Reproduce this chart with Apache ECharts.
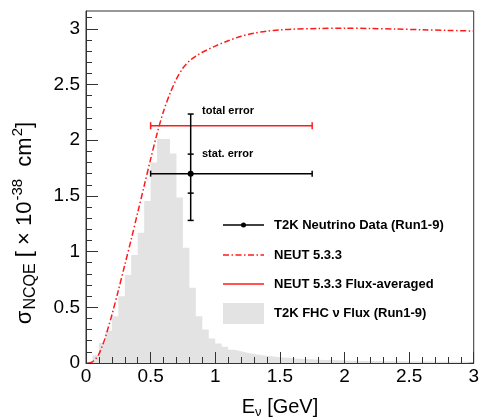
<!DOCTYPE html>
<html>
<head>
<meta charset="utf-8">
<script src="https://cdn.jsdelivr.net/npm/echarts@6/dist/echarts.min.js"></script>
<style>
html,body{margin:0;padding:0;background:#fff;}
#c{width:482px;height:418px;}
</style>
</head>
<body>
<div id="c"></div>
<script>
// Flux histogram: bin edges (GeV) and contents (arbitrary units on the same y scale)
const fluxEdges = [0,0.05,0.1,0.15,0.2,0.25,0.3,0.35,0.4,0.45,0.5,0.55,0.6,0.65,0.7,0.75,0.8,0.85,0.9,0.95,
  1.0,1.05,1.1,1.15,1.2,1.25,1.3,1.35,1.4,1.45,1.5,1.55,1.6,1.65,1.7,1.75,1.8,1.85,1.9,1.95,
  2.0,2.05,2.1,2.15,2.2,2.25,2.3,2.35,2.4,2.45,2.5,2.55,2.6,2.65,2.7,2.75,2.8,2.85,2.9,2.95,3.0];
const fluxValues = [0,0.07,0.18,0.29,0.42,0.60,0.79,0.97,1.17,1.455,1.80,2.01,2.01,1.88,1.485,1.035,0.675,0.42,0.30,0.22,
  0.175,0.145,0.12,0.105,0.092,0.08,0.072,0.065,0.058,0.052,0.047,0.043,0.039,0.036,0.033,0.030,0.028,0.026,0.024,0.022,
  0.021,0.020,0.019,0.018,0.017,0.016,0.016,0.015,0.015,0.014,0.014,0.013,0.013,0.012,0.012,0.012,0.011,0.011,0.011,0.010];

// NEUT 5.3.3 cross-section curve
const neutE  = [0.02,0.04,0.06,0.08,0.1,0.125,0.15,0.175,0.2,0.25,0.3,0.35,0.4,0.45,0.5,0.55,0.6,0.65,0.7,0.75,0.8,0.85,0.9,1.0,1.1,1.2,1.3,1.4,1.5,1.6,1.8,2.0,2.2,2.4,2.6,2.8,3.0];
const neutXs = [0,0.005,0.02,0.045,0.08,0.15,0.23,0.33,0.43,0.65,0.88,1.11,1.35,1.59,1.83,2.06,2.26,2.42,2.55,2.648,2.712,2.755,2.79,2.845,2.893,2.933,2.961,2.979,2.99,2.997,3.003,3.005,3.003,2.998,2.992,2.986,2.98];

// T2K data point
const dataE = [0.81];
const dataXs = [1.70];
const dataELow = [0.5];
const dataEHigh = [1.75];
const totErrLow = [1.28];
const totErrHigh = [2.235];
const statErrLow = [1.525];
const statErrHigh = [1.875];

// NEUT flux-averaged
const fluxAvgXs = [2.13];
const fluxAvgELow = [0.5];
const fluxAvgEHigh = [1.75];

// Axis ticks
const yMajor = [0,0.5,1,1.5,2,2.5,3];
const yMinor = [0.1,0.2,0.3,0.4,0.6,0.7,0.8,0.9,1.1,1.2,1.3,1.4,1.6,1.7,1.8,1.9,2.1,2.2,2.3,2.4,2.6,2.7,2.8,2.9,3.1];

const legendLabels = ['T2K Neutrino Data (Run1-9)','NEUT 5.3.3','NEUT 5.3.3 Flux-averaged','T2K FHC \u03bd Flux (Run1-9)'];

const FONT = 'Liberation Sans, Arial, Helvetica, sans-serif';
const RED = '#ff1a1a';

const histData = fluxValues.map((v,i)=>[fluxEdges[i], v]);
histData.push([fluxEdges[fluxEdges.length-1], fluxValues[fluxValues.length-1]]);

const chart = echarts.init(document.getElementById('c'), null, {renderer:'canvas'});

const errData = dataE.map((e,i)=>[e, dataXs[i], dataELow[i], dataEHigh[i], totErrLow[i], totErrHigh[i], statErrLow[i], statErrHigh[i]]);
const avgData = fluxAvgXs.map((v,i)=>[fluxAvgELow[i], fluxAvgEHigh[i], v]);

const option = {
  animation:false,
  textStyle:{fontFamily:FONT},
  grid:{left:86,right:5,top:11,bottom:55,show:true,borderColor:'#333',borderWidth:1,backgroundColor:'transparent'},
  xAxis:{
    type:'value',min:0,max:3,interval:0.5,z:5,
    axisLine:{show:true,lineStyle:{color:'#333',width:1}},
    axisTick:{inside:true,length:11,lineStyle:{color:'#333'}},
    minorTick:{show:true,splitNumber:5,length:6,lineStyle:{color:'#333'}},
    splitLine:{show:false},
    axisLabel:{fontSize:19,color:'#000',margin:4,fontFamily:FONT}
  },
  yAxis:[{
    type:'value',min:0,max:3.16,z:5,
    axisLine:{show:true,lineStyle:{color:'#333',width:1}},
    axisTick:{inside:true,length:12,customValues:yMajor,lineStyle:{color:'#333'}},
    splitLine:{show:false},
    axisLabel:{fontSize:19,color:'#000',margin:6,customValues:yMajor,fontFamily:FONT}
  },{
    type:'value',min:0,max:3.16,position:'left',z:5,
    axisLine:{show:false},
    axisTick:{inside:true,length:6,customValues:yMinor,lineStyle:{color:'#333'}},
    axisLabel:{show:false,customValues:yMinor},
    splitLine:{show:false}
  }],
  series:[
    {
      name:'flux',type:'line',step:'end',data:histData,showSymbol:false,symbol:'none',z:1,
      lineStyle:{width:0,color:'#e3e3e3'},
      areaStyle:{color:'#e3e3e3',opacity:1}
    },
    {
      name:'neut',type:'line',data:neutE.map((e,i)=>[e,neutXs[i]]),smooth:0.3,
      showSymbol:false,symbol:'none',z:3,
      lineStyle:{color:RED,width:1.5,type:[6,2.5,1.5,2.5]}
    },
    {
      name:'fluxavg',type:'custom',z:4,data:avgData,
      renderItem:function(params,api){
        const lo=api.coord([api.value(0),api.value(2)]);
        const hi=api.coord([api.value(1),api.value(2)]);
        const st={stroke:RED,lineWidth:1.5};
        return {type:'group',children:[
          {type:'line',shape:{x1:lo[0],y1:lo[1],x2:hi[0],y2:hi[1]},style:st},
          {type:'line',shape:{x1:lo[0],y1:lo[1]-3.5,x2:lo[0],y2:lo[1]+3.5},style:st},
          {type:'line',shape:{x1:hi[0],y1:hi[1]-3.5,x2:hi[0],y2:hi[1]+3.5},style:st}
        ]};
      }
    },
    {
      name:'data',type:'custom',z:6,data:errData,
      renderItem:function(params,api){
        const c=api.coord([api.value(0),api.value(1)]);
        const xl=api.coord([api.value(2),api.value(1)]);
        const xh=api.coord([api.value(3),api.value(1)]);
        const tl=api.coord([api.value(0),api.value(4)]);
        const th=api.coord([api.value(0),api.value(5)]);
        const sl=api.coord([api.value(0),api.value(6)]);
        const sh=api.coord([api.value(0),api.value(7)]);
        const st={stroke:'#000',lineWidth:1.5};
        const w=3;
        return {type:'group',children:[
          {type:'line',shape:{x1:xl[0],y1:c[1],x2:xh[0],y2:c[1]},style:st},
          {type:'line',shape:{x1:xl[0],y1:c[1]-w,x2:xl[0],y2:c[1]+w},style:st},
          {type:'line',shape:{x1:xh[0],y1:c[1]-w,x2:xh[0],y2:c[1]+w},style:st},
          {type:'line',shape:{x1:c[0],y1:tl[1],x2:c[0],y2:th[1]},style:st},
          {type:'line',shape:{x1:c[0]-w,y1:tl[1],x2:c[0]+w,y2:tl[1]},style:st},
          {type:'line',shape:{x1:c[0]-w,y1:th[1],x2:c[0]+w,y2:th[1]},style:st},
          {type:'line',shape:{x1:c[0]-w,y1:sl[1],x2:c[0]+w,y2:sl[1]},style:st},
          {type:'line',shape:{x1:c[0]-w,y1:sh[1],x2:c[0]+w,y2:sh[1]},style:st},
          {type:'circle',shape:{cx:c[0],cy:c[1],r:3},style:{fill:'#000'}}
        ]};
      }
    }
  ],
  graphic:[
    // y axis title
    {type:'text',x:25,y:223,rotation:Math.PI/2,z:10,style:{
      text:'{b|\u03c3}{sub|NCQE}{b| [ \u00d7 10}{sup|-38}{b|  cm}{sup|2}{b|]}',
      align:'center',verticalAlign:'middle',fill:'#000',
      rich:{
        b:{fontSize:22,fontFamily:FONT,fill:'#000'},
        sub:{fontSize:16,fontFamily:FONT,padding:[12,0,0,1],fill:'#000'},
        sup:{fontSize:15,fontFamily:FONT,padding:[0,0,14,1],fill:'#000'}
      }}},
    // x axis title
    {type:'text',x:280,y:407,z:10,style:{
      text:'{b|E}{sub|\u03bd}{b| [GeV]}',align:'center',verticalAlign:'middle',fill:'#000',
      rich:{
        b:{fontSize:20,fontFamily:FONT,fill:'#000'},
        sub:{fontSize:13,fontFamily:FONT,padding:[10,0,0,0],fill:'#000'}
      }}},
    // annotations
    {type:'text',x:202,y:111,z:10,style:{text:'total error',fontSize:11,fontWeight:'bold',fontFamily:FONT,fill:'#000',verticalAlign:'middle'}},
    {type:'text',x:202,y:154,z:10,style:{text:'stat. error',fontSize:11,fontWeight:'bold',fontFamily:FONT,fill:'#000',verticalAlign:'middle'}},
    // legend
    {type:'line',z:10,shape:{x1:223,y1:225,x2:264,y2:225},style:{stroke:'#000',lineWidth:1.5}},
    {type:'circle',z:10,shape:{cx:243.5,cy:225,r:2.5},style:{fill:'#000'}},
    {type:'text',x:274,y:225,z:10,style:{text:legendLabels[0],fontSize:13,fontWeight:'bold',fontFamily:FONT,fill:'#000',verticalAlign:'middle'}},
    {type:'line',z:10,shape:{x1:223,y1:255,x2:264,y2:255},style:{stroke:RED,lineWidth:1.5,lineDash:[6,2.5,1.5,2.5]}},
    {type:'text',x:274,y:255,z:10,style:{text:legendLabels[1],fontSize:13,fontWeight:'bold',fontFamily:FONT,fill:'#000',verticalAlign:'middle'}},
    {type:'line',z:10,shape:{x1:223,y1:284,x2:264,y2:284},style:{stroke:RED,lineWidth:1.5}},
    {type:'text',x:274,y:284,z:10,style:{text:legendLabels[2],fontSize:13,fontWeight:'bold',fontFamily:FONT,fill:'#000',verticalAlign:'middle'}},
    {type:'rect',z:10,shape:{x:223,y:303,width:41,height:21},style:{fill:'#e3e3e3'}},
    {type:'text',x:274,y:313,z:10,style:{text:legendLabels[3],fontSize:13,fontWeight:'bold',fontFamily:FONT,fill:'#000',verticalAlign:'middle'}}
  ]
};
chart.setOption(option);
</script>
</body>
</html>
